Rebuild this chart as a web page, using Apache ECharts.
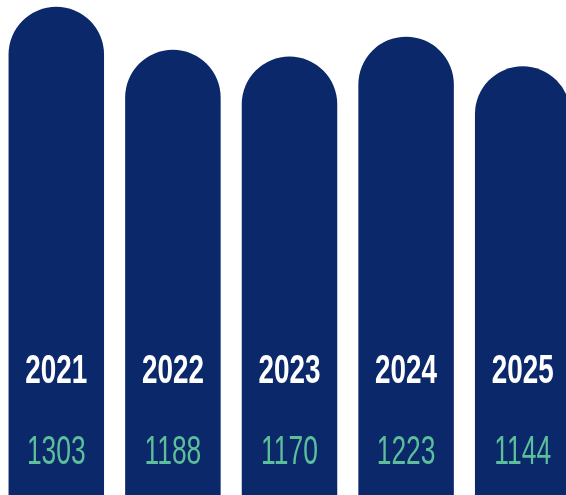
<!DOCTYPE html>
<html>
<head>
<meta charset="utf-8">
<script src="https://cdn.jsdelivr.net/npm/echarts@6/dist/echarts.min.js"></script>
<style>html,body{margin:0;padding:0;background:#fff}#c{width:566px;height:495px}</style>
</head>
<body>
<div id="c"></div>
<script>
const years = ['2021', '2022', '2023', '2024', '2025'];
const counts = [1303, 1188, 1170, 1223, 1144];

const chart = echarts.init(document.getElementById('c'), null, {renderer: 'canvas'});
const labelData = years.map((y, i) => [i, counts[i]]);
chart.setOption({
  animation: false,
  grid: {left: -2, width: 583, top: 0, bottom: 0, outerBoundsMode: 'none'},
  xAxis: {type: 'category', data: years, show: false},
  yAxis: {type: 'value', min: 0, max: 1321, show: false},
  series: [
    {
      type: 'bar',
      data: counts,
      barWidth: 95.5,
      itemStyle: {color: '#0b286b', borderRadius: [48, 48, 0, 0]},
      silent: true
    },
    {
      type: 'custom',
      data: labelData,
      encode: {x: 0, y: 1},
      z: 10,
      silent: true,
      renderItem: function (params, api) {
        const idx = params.dataIndex;
        const p = api.coord([idx, counts[idx]]);
        return {
          type: 'group',
          children: [
            {
              type: 'text', x: p[0], y: 371.5, scaleX: 0.68,
              style: {text: years[idx], fill: '#ffffff', fontSize: 41, fontWeight: 'bold',
                fontFamily: 'Liberation Sans', align: 'center', verticalAlign: 'middle'}
            },
            {
              type: 'text', x: p[0], y: 453, scaleX: 0.66,
              style: {text: String(counts[idx]), fill: '#5cbf9a', fontSize: 40,
                fontFamily: 'Liberation Sans', align: 'center', verticalAlign: 'middle'}
            }
          ]
        };
      }
    }
  ]
});
</script>
</body>
</html>
